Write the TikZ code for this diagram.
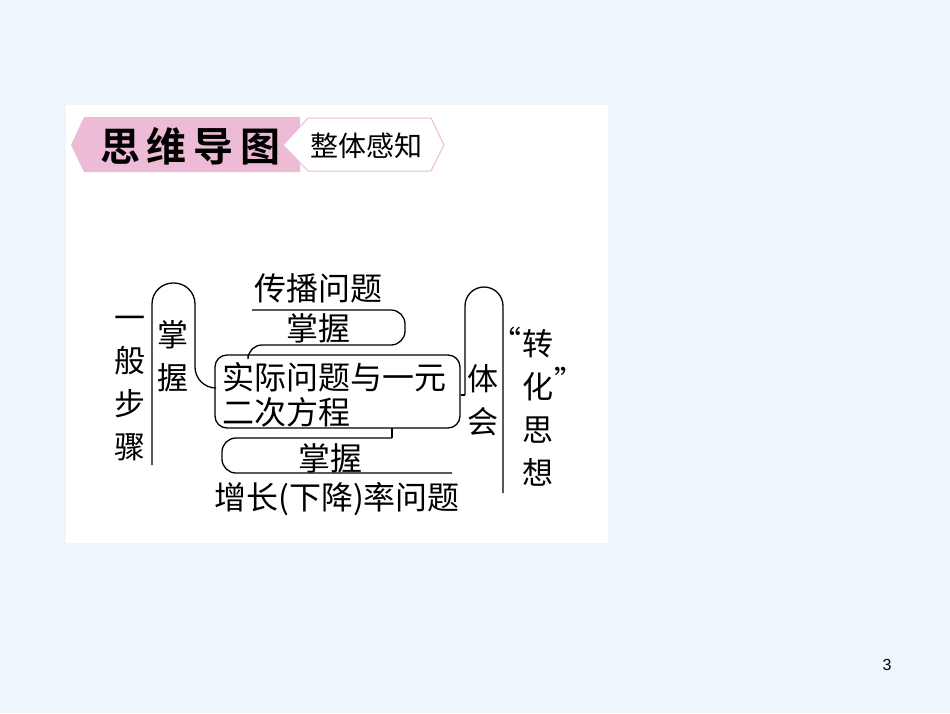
\documentclass[tikz,border=0pt]{standalone}
\usepackage{fontspec}
\newfontfamily\cjk{Noto Sans CJK SC}
\newfontfamily\cjkb{Noto Sans CJK SC Bold}
\definecolor{pagebg}{HTML}{EEF5FC}
\definecolor{pinkb}{HTML}{EDBBD6}
\begin{document}
\begin{tikzpicture}[x=1pt,y=-1pt,
  txt/.style={font=\cjk\fontsize{32}{32}\selectfont, inner sep=0pt},
  vtxt/.style={font=\cjk\fontsize{31}{43}\selectfont, inner sep=0pt, align=center},
  ln/.style={line width=1.3pt, black}]
\useasboundingbox (0,0) rectangle (950,713);
\fill[pagebg] (0,0) rectangle (950,713);
\fill[white] (66,105) rectangle (608,543);
% header
\fill[pinkb] (71,145) -- (84,117) -- (300,117) -- (300,172) -- (84,172) -- cycle;
\filldraw[fill=white, draw=pinkb, line width=1pt] (283,145) -- (308,118) -- (431,118) -- (444,145) -- (431,171) -- (308,171) -- cycle;
\node[inner sep=0pt, font=\cjkb\fontsize{40}{40}\selectfont] (hd) at (190,146) {思\,维\,导\,图};
\node[inner sep=0pt, font=\cjk\fontsize{28}{28}\selectfont] (hd2) at (366,146) {整体感知};
% center box
\node[draw, ln, rounded corners=12pt, minimum width=245pt, minimum height=73pt, inner sep=0pt] (box) at (337.5,391.5) {};
\node[txt, anchor=west] (l1) at (222,377) {实际问题与一元};
\node[txt, anchor=west] (l2) at (222,412) {二次方程};
% left
\node[vtxt] (steps) at (130,389) {一\\般\\步\\骤};
\node[vtxt] (zw1) at (173,356) {掌\\握};
\coordinate (lb) at (152,465);
\draw[ln, rounded corners=21pt] (lb) -- (152,283) -- (195,283) -- (195,388) -- (box.west |- 0,388);
% top
\node[txt] (cb) at (318,288) {传播问题};
\node[txt] (zw2) at (318,328) {掌握};
\coordinate (tl) at (252,310);
\draw[ln, rounded corners=14pt] (tl) -- (405,310) -- (405,345) -- (248,345) [sharp corners] -- (248,355);
% bottom
\node[txt] (zw3) at (330,458) {掌握};
\node[txt] (zz) at (337,499) {增长(下降)率问题};
\coordinate (br) at (452,473);
\draw[ln] (392,428) -- (392,438);
\draw[ln, rounded corners=14pt] (392,438) -- (222,438) -- (222,473) -- (br);
% right
\node[vtxt] (th) at (483,400) {体\\会};
\coordinate (rb) at (503,493);
\draw[ln] (box.east |- 0,395) -- (465,395);
\draw[ln, rounded corners=19pt] (465,395) -- (465,287) -- (503,287) -- (rb);
\node[vtxt] (zh) at (538,408) {转\\化\\思\\想};
\node[font=\cjk\fontsize{30}{30}\selectfont, inner sep=0pt, anchor=east] (q1) at (522,340) {“};
\node[font=\cjk\fontsize{30}{30}\selectfont, inner sep=0pt, anchor=west] (q2) at (554,380) {”};
% page number
\node[inner sep=0pt, font=\fontspec{Liberation Sans}\fontsize{16}{16}\selectfont] (pn) at (887,665) {3};
\end{tikzpicture}
\end{document}
